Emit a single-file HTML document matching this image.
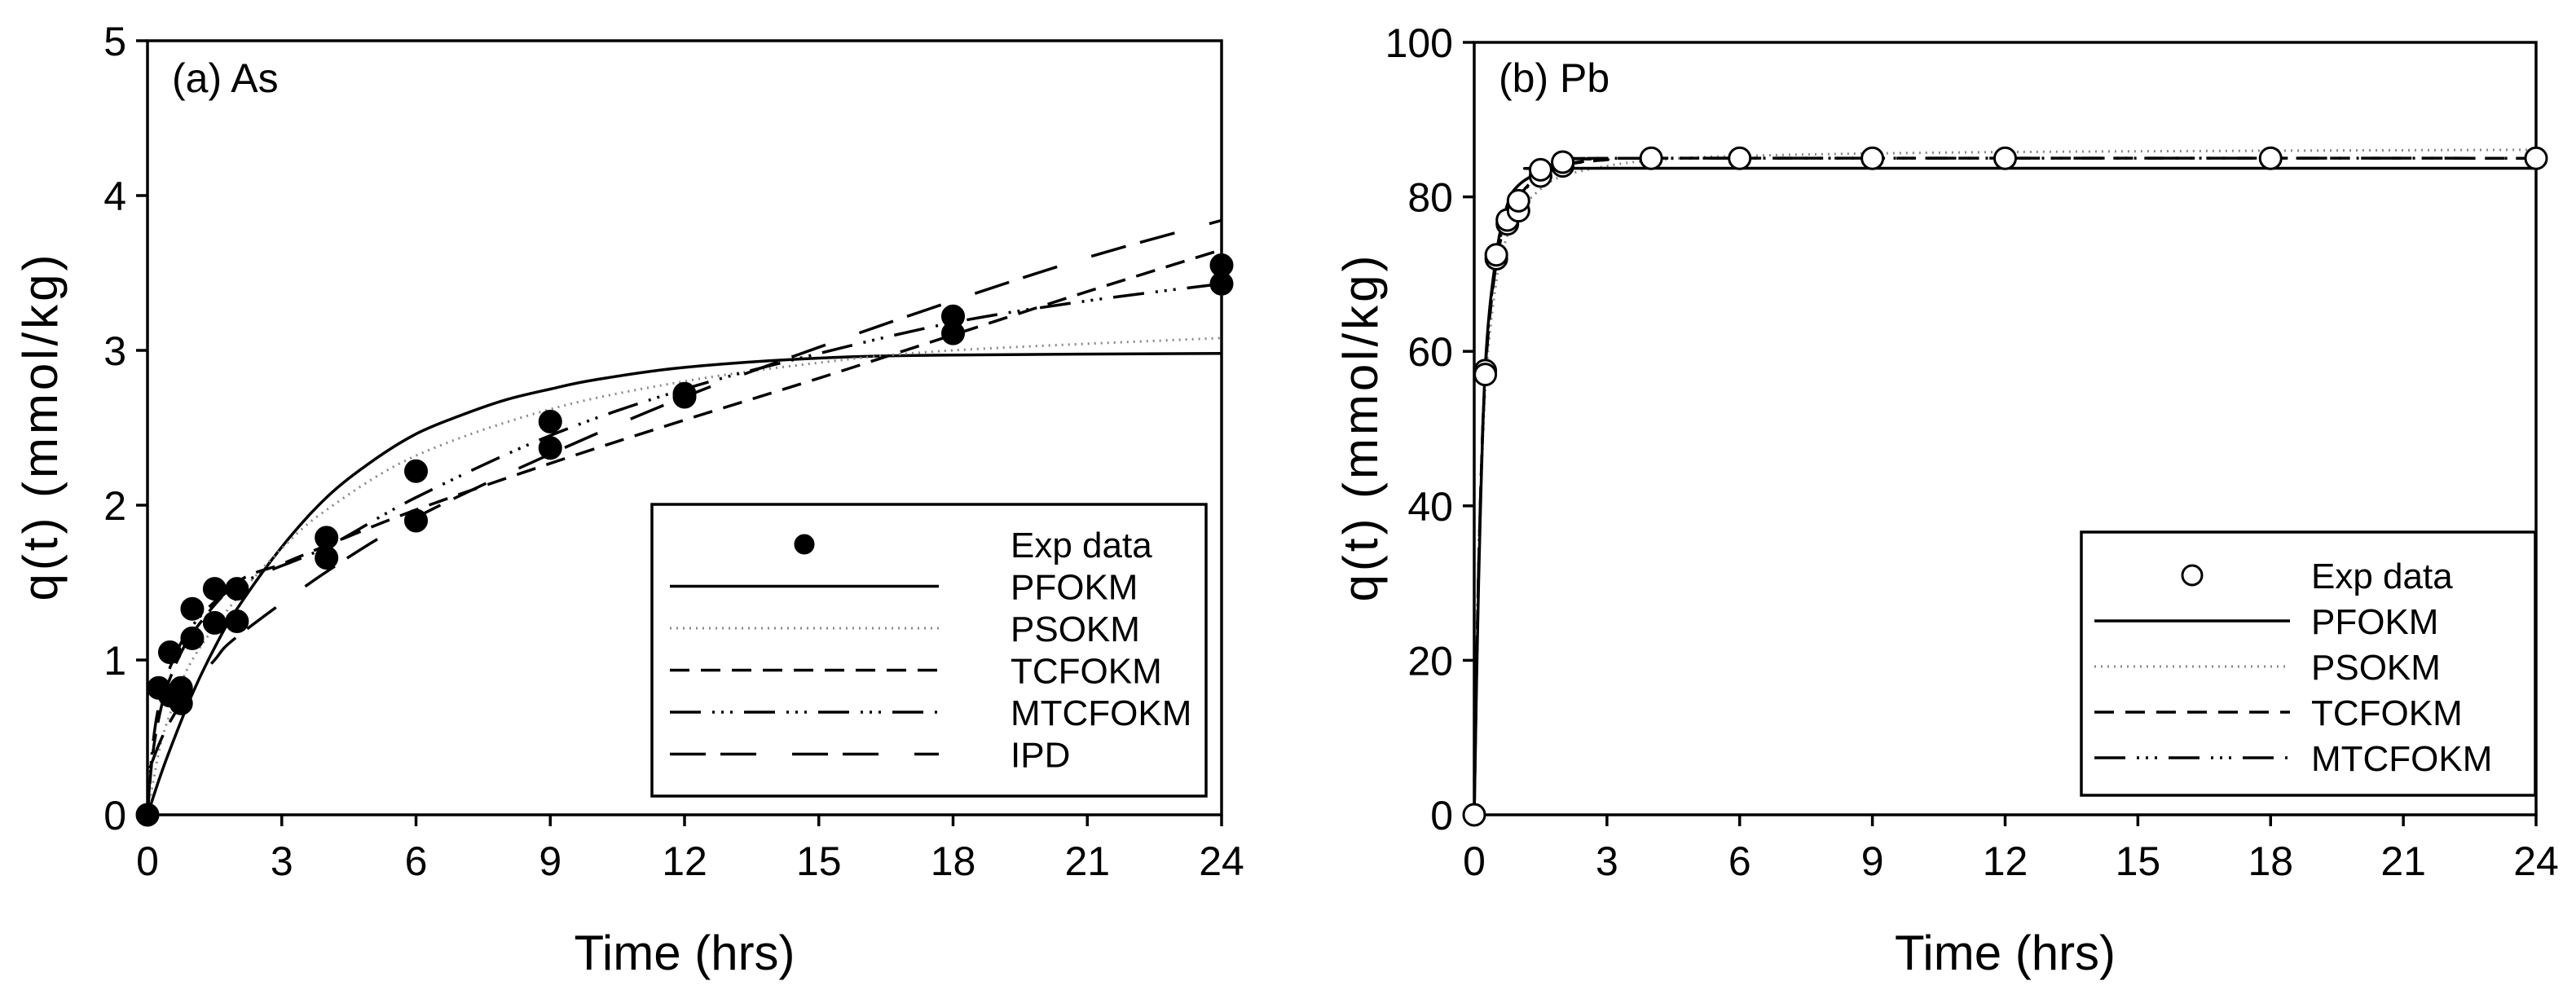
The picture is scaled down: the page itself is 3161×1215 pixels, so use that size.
<!DOCTYPE html>
<html><head><meta charset="utf-8"><style>
html,body{margin:0;padding:0;background:#fff;}
svg{display:block;font-family:"Liberation Sans",Arial,sans-serif;}
</style></head><body>
<svg id="fig" width="3161" height="1215" viewBox="0 0 3161 1215" xmlns="http://www.w3.org/2000/svg"></svg>
<script>
// ---------- data ----------
const xTicks = [0,3,6,9,12,15,18,21,24];
const yTicksA = [0,1,2,3,4,5];
const yTicksB = [0,20,40,60,80,100];

// Panel (a) As experimental data
const expA_t = [0,0.25,0.5,0.5,0.75,0.75,1,1,1.5,1.5,2,2,4,4,6,6,9,9,12,12,18,18,24,24];
const expA_q = [0,0.82,0.77,1.05,0.82,0.72,1.33,1.14,1.46,1.24,1.46,1.25,1.79,1.66,2.22,1.90,2.54,2.37,2.72,2.70,3.22,3.11,3.55,3.43];
// Model curves (a)
const pfoA_t = [0,0.25,0.5,1,1.5,2,3,4,5,6,7,8,9,10,12,15,18,24];
const pfoA_q = [0,0.22,0.42,0.78,1.08,1.33,1.73,2.05,2.28,2.46,2.58,2.68,2.75,2.81,2.89,2.95,2.97,2.98];
const psoA_t = [0,0.25,0.5,1,2,3,4,6,9,12,15,18,24];
const psoA_q = [0,0.40,0.65,1.00,1.40,1.72,1.97,2.32,2.62,2.80,2.92,3.00,3.08];
const tcfA_t = [0,0.1,0.25,0.5,1,2,3,4,6,9,12,15,18,21,24];
const tcfA_q = [0,0.35,0.62,0.88,1.17,1.50,1.62,1.74,1.97,2.27,2.55,2.82,3.10,3.38,3.65];
const mtcA_t = [0,0.1,0.25,0.5,1,2,4,6,9,12,15,18,21,24];
const mtcA_q = [0,0.40,0.70,0.95,1.22,1.48,1.73,2.05,2.45,2.75,2.98,3.18,3.32,3.43];
const ipdA_t = [0.05,0.25,0.5,1,1.5,2,4,6,9,12,15,18,21,24];
const ipdA_q = [0.30,0.45,0.60,0.83,1.00,1.15,1.57,1.92,2.33,2.70,3.02,3.32,3.60,3.84];

// Panel (b) Pb experimental data
const expB_t = [0,0.25,0.25,0.5,0.5,0.75,0.75,1,1,1.5,1.5,2,2,4,6,9,12,18,24];
const expB_q = [0,57.5,57,72,72.5,76.5,77,78.2,79.5,82.7,83.5,84,84.5,85,85,85,85,85,85];
const pfoB_t = [0,0.1,0.25,0.5,0.75,1,1.5,2,3,24];
const pfoB_q = [0,30,58,72.5,79,81.5,83.2,83.6,83.7,83.7];
const psoB_t = [0,0.1,0.25,0.5,0.75,1,1.5,2,3,4,6,12,24];
const psoB_q = [0,30,55,69,75,78,81,82.7,84,84.7,85.3,85.8,86.1];
const tcfB_t = [0,0.1,0.25,0.5,0.75,1,1.5,2,3,4,24];
const tcfB_q = [0,32,57,71.5,77,80,83,84.2,84.8,85,85];
const mtcB_t = [0,0.1,0.25,0.5,0.75,1,1.5,2,3,4,24];
const mtcB_q = [0,32,57.5,72,77.5,80,82.8,84.1,84.8,85,85];

// ---------- drawing ----------
const NS = "http://www.w3.org/2000/svg";
const svg = document.getElementById('fig');
function el(tag, attrs, parent){
  const e = document.createElementNS(NS, tag);
  for (const k in attrs) e.setAttribute(k, attrs[k]);
  (parent||svg).appendChild(e);
  return e;
}
function txt(s, attrs, parent){ const t = el('text', attrs, parent); t.textContent = s; return t; }

const STYLES = {
  pfo:{stroke:'#000','stroke-width':3.5},
  pso:{stroke:'#888','stroke-width':3,'stroke-dasharray':'2 6'},
  tcf:{stroke:'#000','stroke-width':3.5,'stroke-dasharray':'24 14'},
  mtc:{stroke:'#000','stroke-width':3.5,'stroke-dasharray':'38 14 3 8 3 8 3 14'},
  ipd:{stroke:'#000','stroke-width':3.5,'stroke-dasharray':'44 18 44 44'}
};

function smoothPath(pts){
  let d = 'M'+pts[0][0].toFixed(1)+','+pts[0][1].toFixed(1);
  for (let i=0;i<pts.length-1;i++){
    const p0=pts[Math.max(0,i-1)], p1=pts[i], p2=pts[i+1], p3=pts[Math.min(pts.length-1,i+2)];
    const c1=[p1[0]+(p2[0]-p0[0])/6, p1[1]+(p2[1]-p0[1])/6];
    const c2=[p2[0]-(p3[0]-p1[0])/6, p2[1]-(p3[1]-p1[1])/6];
    d+=' C'+c1[0].toFixed(1)+','+c1[1].toFixed(1)+' '+c2[0].toFixed(1)+','+c2[1].toFixed(1)+' '+p2[0].toFixed(1)+','+p2[1].toFixed(1);
  }
  return d;
}

function panel(cfg){
  const g = el('g',{});
  
  
  const X = t => cfg.x0 + (t/24)*(cfg.x1-cfg.x0);
  const Y = q => cfg.y0 - (q/cfg.ymax)*(cfg.y0-cfg.y1);
  const fr = el('rect',{x:cfg.x0,y:cfg.y1,width:cfg.x1-cfg.x0,height:cfg.y0-cfg.y1,fill:'none',stroke:'#000','stroke-width':3.5},g);
  
  
  xTicks.forEach(t=>{
    const l = el('line',{x1:X(t),x2:X(t),y1:cfg.y0,y2:cfg.y0+14,stroke:'#000','stroke-width':3.5},g);
    
    
    const lb = txt(String(t),{x:X(t),y:cfg.y0+74,'font-size':50,'text-anchor':'middle'},g);
    
    
  });
  cfg.yTicks.forEach(q=>{
    const l = el('line',{x1:cfg.x0-14,x2:cfg.x0,y1:Y(q),y2:Y(q),stroke:'#000','stroke-width':3.5},g);
    
    
    const lb = txt(String(q),{x:cfg.x0-26,y:Y(q)+18,'font-size':50,'text-anchor':'end'},g);
    
    
  });
  const xt = txt('Time (hrs)',{x:(cfg.x0+cfg.x1)/2,y:1190,'font-size':60,'text-anchor':'middle'},g);
  
  
  const yt = txt('q(t) (mmol/kg)',{x:0,y:0,'font-size':60,'text-anchor':'middle',textLength:425,transform:'translate('+cfg.ytx+','+((cfg.y0+cfg.y1)/2)+') rotate(-90)'},g);
  
  
  const pl = txt(cfg.label,{x:cfg.x0+30,y:113,'font-size':50},g);
  
  
  cfg.curves.forEach(c=>{
    const pts = c.t.map((t,i)=>[X(t),Y(c.q[i])]);
    const p = el('path',Object.assign({d:smoothPath(pts),fill:'none'},STYLES[c.key]),g);
    
    
  });
  cfg.expT.forEach((t,i)=>{
    const m = el('circle',{cx:X(t),cy:Y(cfg.expQ[i]),r:13,fill:cfg.filled?'#000':'#fff',stroke:'#000','stroke-width':3},g);
    
    
  });
  const L = cfg.legend;
  const lg = el('g',{},g);
  
  
  el('rect',{x:L.x,y:L.y,width:L.w,height:L.h,fill:'#fff',stroke:'#000','stroke-width':3.5},lg);
  L.rows.forEach((r,i)=>{
    const yy = L.firstY + i*L.dy;
    const entry = el('g',{},lg);
    
    
    if (r.key==='exp'){
      el('circle',{cx:(L.lx0+L.lx1)/2,cy:yy,r:cfg.filled?11:12,fill:cfg.filled?'#000':'#fff',stroke:'#000','stroke-width':3},entry);
    } else {
      el('line',Object.assign({x1:L.lx0,x2:L.lx1,y1:yy,y2:yy},STYLES[r.key]),entry);
    }
    txt(r.label,{x:L.tx,y:yy+16,'font-size':44},entry);
  });
}

panel({name:'panel-a-arsenic',x0:181,x1:1499,y0:1000,y1:50,ymax:5,yTicks:yTicksA,ytx:70,label:'(a) As',filled:true,
  expT:expA_t,expQ:expA_q,
  curves:[{key:'pfo',name:'pfokm-curve',t:pfoA_t,q:pfoA_q},{key:'pso',name:'psokm-curve',t:psoA_t,q:psoA_q},
          {key:'tcf',name:'tcfokm-curve',t:tcfA_t,q:tcfA_q},{key:'mtc',name:'mtcfokm-curve',t:mtcA_t,q:mtcA_q},
          {key:'ipd',name:'ipd-curve',t:ipdA_t,q:ipdA_q}],
  legend:{x:800,y:619,w:680,h:358,firstY:668,dy:51.5,lx0:822,lx1:1152,tx:1240,
    rows:[{key:'exp',label:'Exp data'},{key:'pfo',label:'PFOKM'},{key:'pso',label:'PSOKM'},{key:'tcf',label:'TCFOKM'},{key:'mtc',label:'MTCFOKM'},{key:'ipd',label:'IPD'}]}
});
panel({name:'panel-b-lead',x0:1809,x1:3112,y0:1000,y1:52,ymax:100,yTicks:yTicksB,ytx:1690,label:'(b) Pb',filled:false,
  expT:expB_t,expQ:expB_q,
  curves:[{key:'pso',name:'psokm-curve',t:psoB_t,q:psoB_q},{key:'pfo',name:'pfokm-curve',t:pfoB_t,q:pfoB_q},
          {key:'tcf',name:'tcfokm-curve',t:tcfB_t,q:tcfB_q},{key:'mtc',name:'mtcfokm-curve',t:mtcB_t,q:mtcB_q}],
  legend:{x:2554,y:653,w:557,h:323,firstY:706,dy:56,lx0:2570,lx1:2810,tx:2836,
    rows:[{key:'exp',label:'Exp data'},{key:'pfo',label:'PFOKM'},{key:'pso',label:'PSOKM'},{key:'tcf',label:'TCFOKM'},{key:'mtc',label:'MTCFOKM'}]}
});
</script>
</body></html>
